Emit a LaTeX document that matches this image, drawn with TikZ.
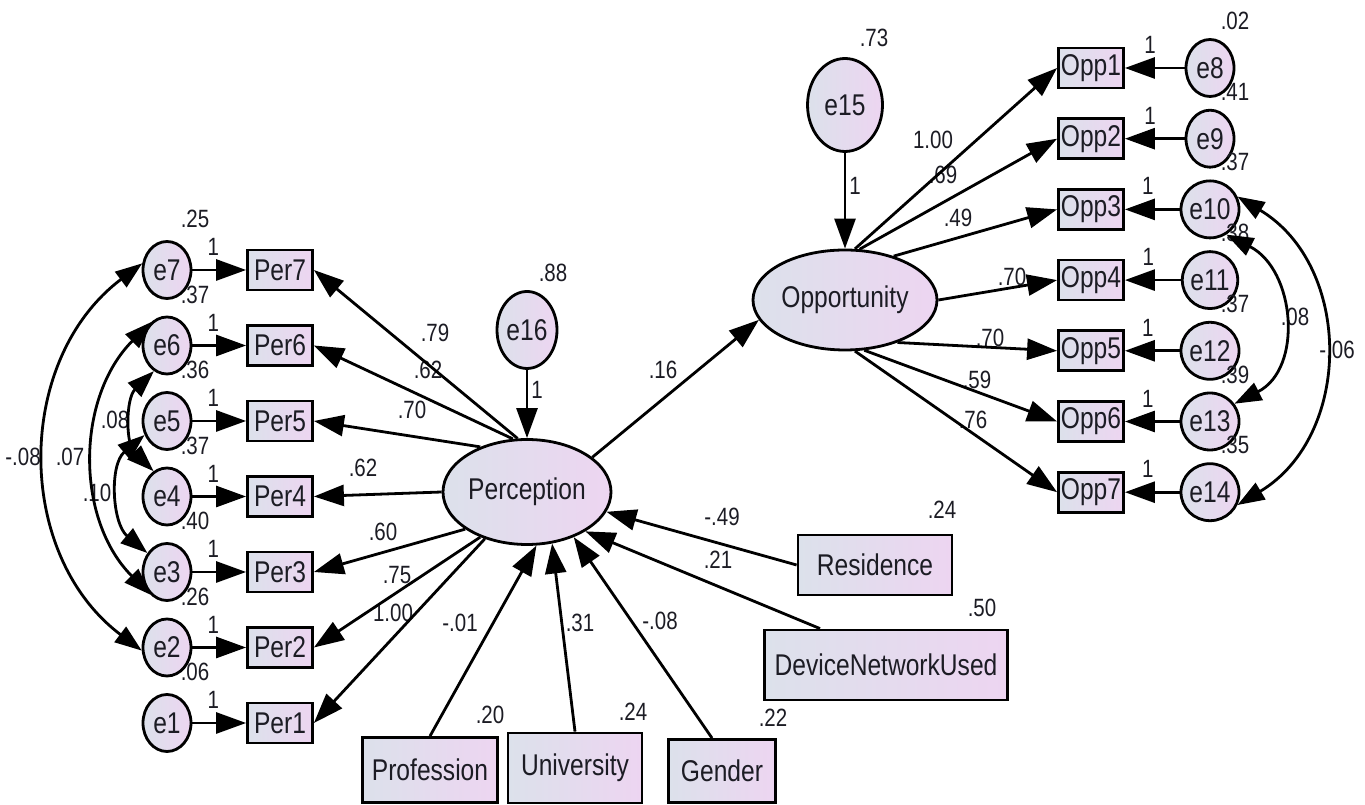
\documentclass[tikz,border=0pt]{standalone}
\usepackage{fontspec}
\setmainfont{Liberation Sans}[FakeStretch=0.82]
\usepackage{xcolor}
\usepackage{tikz}
\usetikzlibrary{positioning, arrows.meta, shapes.geometric}

\definecolor{fondG}{HTML}{DCE1EB}
\definecolor{fondD}{HTML}{EDD5F1}
\definecolor{encre}{HTML}{1C1C24}
\newcommand{\grandtexte}{\fontsize{30}{32}\selectfont}
\newcommand{\petittexte}{\fontsize{25}{27}\selectfont}

\begin{document}
\begin{tikzpicture}[x=1pt, y=1pt, node distance=75.5pt, on grid,
    lat/.style={ellipse, draw, line width=2.8pt, left color=fondG, right color=fondD, inner sep=0pt, text=encre, font=\grandtexte},
    err/.style={lat, minimum width=48pt, minimum height=57pt},
    obs/.style={rectangle, draw, line width=2.8pt, left color=fondG, right color=fondD, inner sep=1pt, text=encre, font=\grandtexte},
    ind/.style={obs, minimum width=65pt, minimum height=40pt},
    lbl/.style={inner sep=1pt, text=encre, font=\petittexte},
    fl/.style={line width=2.8pt, -{Triangle[length=30pt, width=21pt]}},
    cov/.style={line width=2.8pt, {Triangle[length=27pt, width=19pt]}-{Triangle[length=27pt, width=19pt]}}]

    \path[use as bounding box, fill=white] (0,0) rectangle (1365,805);

    % Variables latentes
    \node[lat, minimum width=168pt, minimum height=105pt] (per) at (527,313) {Perception};
    \node[lat, minimum width=184pt, minimum height=100pt] (opp) at (845,505) {Opportunity};
    \node[err, minimum width=60pt, minimum height=77pt, above=162pt of per] (e16) {e16};
    \node[err, minimum width=75pt, minimum height=93pt, above=195pt of opp] (e15) {e15};

    % Indicateurs de Perception
    \node[err] (e7) at (167,535) {e7};
    \node[err, below=of e7] (e6) {e6};
    \node[err, below=of e6] (e5) {e5};
    \node[err, below=of e5] (e4) {e4};
    \node[err, below=of e4] (e3) {e3};
    \node[err, below=of e3] (e2) {e2};
    \node[err, below=of e2] (e1) {e1};
    \node[ind, right=113pt of e7] (per7) {Per7};
    \node[ind, right=113pt of e6] (per6) {Per6};
    \node[ind, right=113pt of e5] (per5) {Per5};
    \node[ind, right=113pt of e4] (per4) {Per4};
    \node[ind, right=113pt of e3] (per3) {Per3};
    \node[ind, right=113pt of e2] (per2) {Per2};
    \node[ind, right=113pt of e1] (per1) {Per1};

    % Indicateurs de Opportunity
    \node[ind] (opp1) at (1091,737) {Opp1};
    \node[ind, below=70.7pt of opp1] (opp2) {Opp2};
    \node[ind, below=70.7pt of opp2] (opp3) {Opp3};
    \node[ind, below=70.7pt of opp3] (opp4) {Opp4};
    \node[ind, below=70.7pt of opp4] (opp5) {Opp5};
    \node[ind, below=70.7pt of opp5] (opp6) {Opp6};
    \node[ind, below=70.7pt of opp6] (opp7) {Opp7};
    \node[err, right=119pt of opp1] (e8) {e8};
    \node[err, right=119pt of opp2] (e9) {e9};
    \node[err, right=119pt of opp3] (e10) {e10};
    \node[err, right=119pt of opp4] (e11) {e11};
    \node[err, right=119pt of opp5] (e12) {e12};
    \node[err, right=119pt of opp6] (e13) {e13};
    \node[err, right=119pt of opp7] (e14) {e14};

    % Variables exogenes
    \node[obs, minimum width=135pt, minimum height=65pt] (prof) at (430,35) {Profession};
    \node[obs, minimum width=134pt, minimum height=70pt] (univ) at (575,37) {University};
    \node[obs, minimum width=107pt, minimum height=63pt] (gend) at (722,34) {Gender};
    \node[obs, minimum width=154pt, minimum height=60pt] (resi) at (875,240) {Residence};
    \node[obs, minimum width=243pt, minimum height=70pt] (dnu) at (886,140) {DeviceNetworkUsed};

    % Variances
    \node[lbl, above right=51pt and 28pt of e7] (ve7) {.25};
    \node[lbl, above right=51pt and 28pt of e6] (ve6) {.37};
    \node[lbl, above right=51pt and 28pt of e5] (ve5) {.36};
    \node[lbl, above right=51pt and 28pt of e4] (ve4) {.37};
    \node[lbl, above right=51pt and 28pt of e3] (ve3) {.40};
    \node[lbl, above right=51pt and 28pt of e2] (ve2) {.26};
    \node[lbl, above right=51pt and 28pt of e1] (ve1) {.06};
    \node[lbl, above right=47pt and 25pt of e8] (ve8) {.02};
    \node[lbl, above right=47pt and 25pt of e9] (ve9) {.41};
    \node[lbl, above right=47pt and 25pt of e10] (ve10) {.37};
    \node[lbl, above right=47pt and 25pt of e11] (ve11) {.38};
    \node[lbl, above right=47pt and 25pt of e12] (ve12) {.37};
    \node[lbl, above right=47pt and 25pt of e13] (ve13) {.39};
    \node[lbl, above right=47pt and 25pt of e14] (ve14) {.35};
    \node[lbl, above right=57pt and 26pt of e16] (ve16) {.88};
    \node[lbl, above right=67pt and 29pt of e15] (ve15) {.73};
    \node[lbl, above right=55pt and 60pt of prof] (vprof) {.20};
    \node[lbl, above right=56pt and 58pt of univ] (vuniv) {.24};
    \node[lbl, above right=53pt and 51pt of gend] (vgend) {.22};
    \node[lbl, above right=55pt and 67pt of resi] (vresi) {.24};
    \node[lbl, above right=57pt and 96pt of dnu] (vdnu) {.50};

    % Coefficients
    \node[lbl] (lper7) at (435,472) {.79};
    \node[lbl] (lper6) at (428,435) {.62};
    \node[lbl] (lper5) at (412,395) {.70};
    \node[lbl] (lper4) at (363,337) {.62};
    \node[lbl] (lper3) at (383,273) {.60};
    \node[lbl] (lper2) at (397,230) {.75};
    \node[lbl] (lper1) at (393,192) {1.00};
    \node[lbl] (lprof) at (460,182) {-.01};
    \node[lbl] (luniv) at (580,182) {.31};
    \node[lbl] (lgend) at (660,184) {-.08};
    \node[lbl] (lresi) at (722,288) {-.49};
    \node[lbl] (ldnu) at (718,245) {.21};
    \node[lbl] (lpo) at (663,435) {.16};
    \node[lbl] (lopp1) at (933,665) {1.00};
    \node[lbl] (lopp2) at (943,630) {.69};
    \node[lbl] (lopp3) at (958,587) {.49};
    \node[lbl] (lopp4) at (1012,528) {.70};
    \node[lbl] (lopp5) at (990,467) {.70};
    \node[lbl] (lopp6) at (977,425) {.59};
    \node[lbl] (lopp7) at (973,385) {.76};
    \node[lbl] (c72) at (23,348) {-.08};
    \node[lbl] (c63) at (70,348) {.07};
    \node[lbl] (c64) at (115,385) {.08};
    \node[lbl] (c53) at (97,312) {.10};
    \node[lbl] (c1013) at (1295,488) {.08};
    \node[lbl] (c1014) at (1337,455) {-.06};

    % Erreurs vers indicateurs
    \path[fl]
    (e7.east) edge node[lbl, above=12pt, pos=0.39]{1} (per7.west)
    (e6.east) edge node[lbl, above=12pt, pos=0.39]{1} (per6.west)
    (e5.east) edge node[lbl, above=12pt, pos=0.39]{1} (per5.west)
    (e4.east) edge node[lbl, above=12pt, pos=0.39]{1} (per4.west)
    (e3.east) edge node[lbl, above=12pt, pos=0.39]{1} (per3.west)
    (e2.east) edge node[lbl, above=12pt, pos=0.39]{1} (per2.west)
    (e1.east) edge node[lbl, above=12pt, pos=0.39]{1} (per1.west)
    (e8.west) edge node[lbl, above=12pt, pos=0.58]{1} (opp1.east)
    (e9.west) edge node[lbl, above=12pt, pos=0.58]{1} (opp2.east)
    (e10.west) edge node[lbl, above=12pt, pos=0.58]{1} (opp3.east)
    (e11.west) edge node[lbl, above=12pt, pos=0.58]{1} (opp4.east)
    (e12.west) edge node[lbl, above=12pt, pos=0.58]{1} (opp5.east)
    (e13.west) edge node[lbl, above=12pt, pos=0.58]{1} (opp6.east)
    (e14.west) edge node[lbl, above=12pt, pos=0.58]{1} (opp7.east)
    (e16.south) edge node[lbl, right=2pt, pos=0.3]{1} (per.north)
    (e15.south) edge node[lbl, right=2pt, pos=0.34]{1} (opp.north);

    % Saturations
    \path[fl]
    (per.100) edge (per7.east)
    (per.105) edge (per6.east)
    (per.136) edge (per5.east)
    (per.west) edge (per4.east)
    (per.211) edge (per3.east)
    (per.224) edge (per2.east)
    (per.228) edge (per1.east)
    (opp.79) edge (opp1.west)
    (opp.74) edge (opp2.west)
    (opp.42) edge (opp3.west)
    (opp.east) edge (opp4.west)
    (opp.321) edge (opp5.west)
    (opp.291) edge (opp6.west)
    (opp.281) edge (opp7.west)
    (per.28) edge (opp.193);

    % Effets des variables exogenes
    \path[fl]
    (prof.north) edge (per.280)
    (univ.north) edge (per.296)
    ([xshift=-10pt]gend.north) edge (per.316)
    ([xshift=-66pt]dnu.north) edge (per.326)
    (resi.west) edge (per.346);

    % Covariances
    \path[cov]
    (e7.165) edge[out=217, in=143, looseness=1.06] (e2.187)
    (e6.124) edge[out=225, in=135] (e3.234)
    (e6.243) edge[out=224, in=136] (e4.118)
    (e5.212) edge[out=220, in=140] (e3.136)
    (e10.303) edge[out=-27, in=27, looseness=1.17] (e13.36)
    (e10.25) edge[out=-31, in=31, looseness=1.12] (e14.335);

\end{tikzpicture}
\end{document}
